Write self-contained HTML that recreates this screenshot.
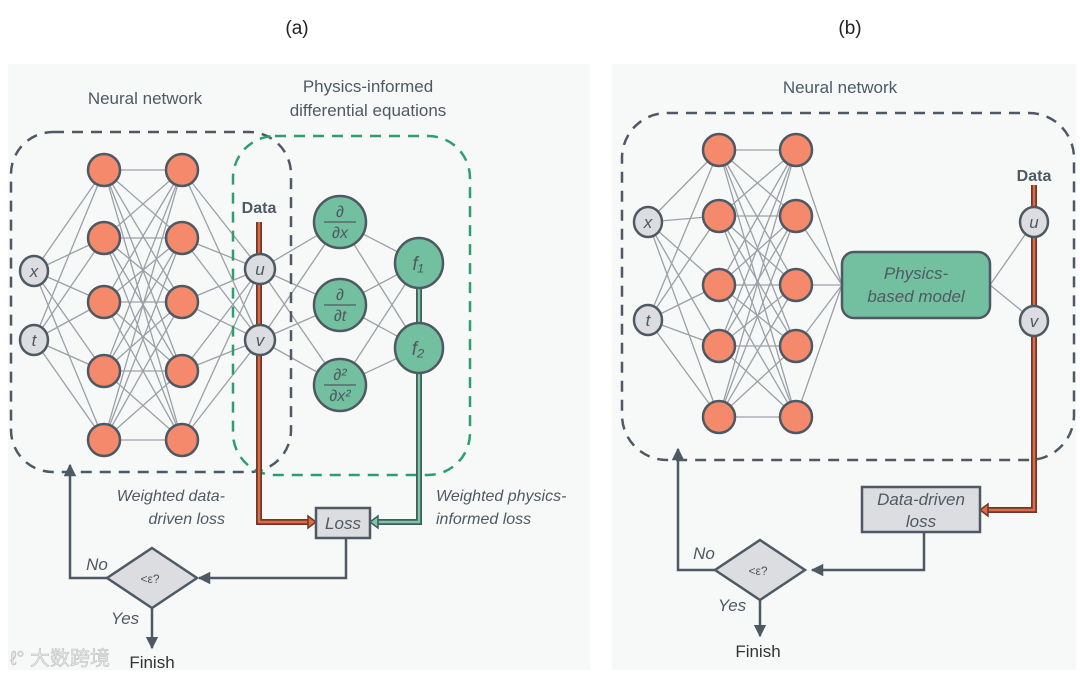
<!DOCTYPE html>
<html><head><meta charset="utf-8"><style>
html,body{margin:0;padding:0;background:#fff;}
svg{display:block;font-family:"Liberation Sans",sans-serif;}
</style></head><body>
<svg id="s" width="1080" height="675" viewBox="0 0 1080 675" xmlns="http://www.w3.org/2000/svg">
<defs>
<marker id="ar" viewBox="0 0 10 10" refX="9" refY="5" markerWidth="5" markerHeight="5" orient="auto"><path d="M0,0 L10,5 L0,10 z" fill="#4f5963"/></marker>
</defs>
<rect x="8" y="64" width="582" height="606" fill="#f7f9f9"/>
<rect x="612" y="64" width="464" height="606" fill="#f7f9f9"/>
<text x="297" y="34" font-size="19" text-anchor="middle" fill="#222">(a)</text>
<text x="850" y="34" font-size="19" text-anchor="middle" fill="#222">(b)</text>
<g id="edges" stroke="#9ba0a6" stroke-width="1.3"></g>
<rect x="11" y="132" width="280" height="340" rx="42" fill="none" stroke="#4f5963" stroke-width="2.5" stroke-dasharray="11,8"/>
<rect x="233" y="136" width="237" height="339" rx="42" fill="none" stroke="#2e9e6e" stroke-width="2.5" stroke-dasharray="11,8"/>
<text x="145" y="104" font-size="17" text-anchor="middle" fill="#4f5963">Neural  network</text>
<text x="368" y="92" font-size="17" text-anchor="middle" fill="#4f5963">Physics-informed</text>
<text x="368" y="116" font-size="17" text-anchor="middle" fill="#4f5963">differential equations</text>
<path d="M259,222 V522 H308" fill="none" stroke="#6b3a2a" stroke-width="6"/>
<path d="M259,222 V522 H308" fill="none" stroke="#e06a45" stroke-width="2.5"/>
<path d="M308,516 L316,522 L308,528 z" fill="#e06a45" stroke="#6b3a2a" stroke-width="1.5"/>
<path d="M419,263 V522 H378" fill="none" stroke="#3f5e5a" stroke-width="6"/>
<path d="M419,263 V522 H378" fill="none" stroke="#7fc4aa" stroke-width="2.5"/>
<path d="M378,516 L370,522 L378,528 z" fill="#7fc4aa" stroke="#3f5e5a" stroke-width="1.5"/>
<text x="259" y="213" font-size="16" font-weight="bold" text-anchor="middle" fill="#4f5963">Data</text>
<rect x="316" y="508" width="54" height="30" fill="#dcdde0" stroke="#4f5963" stroke-width="2.5"/>
<text x="343" y="529" font-size="17" font-style="italic" text-anchor="middle" fill="#4f5963">Loss</text>
<text x="225" y="501" font-size="16" font-style="italic" text-anchor="end" fill="#4f5963">Weighted data-</text>
<text x="225" y="524" font-size="16" font-style="italic" text-anchor="end" fill="#4f5963">driven loss</text>
<text x="436" y="501" font-size="16" font-style="italic" fill="#4f5963">Weighted physics-</text>
<text x="436" y="524" font-size="16" font-style="italic" fill="#4f5963">informed loss</text>
<path d="M346,538 V578 H199" fill="none" stroke="#4f5963" stroke-width="2.5" marker-end="url(#ar)"/>
<path d="M107,578 H70 V465" fill="none" stroke="#4f5963" stroke-width="2.5" marker-end="url(#ar)"/>
<path d="M152,608 V648" fill="none" stroke="#4f5963" stroke-width="2.5" marker-end="url(#ar)"/>
<polygon points="152,548 197,578 152,608 107,578" fill="#dcdde0" stroke="#4f5963" stroke-width="2.5"/>
<text x="150" y="583" font-size="12" text-anchor="middle" fill="#555">&lt;ε?</text>
<text x="97" y="570" font-size="17" font-style="italic" text-anchor="middle" fill="#4f5963">No</text>
<text x="125" y="624" font-size="17" font-style="italic" text-anchor="middle" fill="#4f5963">Yes</text>
<text x="152" y="668" font-size="17" text-anchor="middle" fill="#333">Finish</text>
<text x="10" y="665" font-size="20" fill="#e8e8e8" stroke="#bbb" stroke-width="0.5" font-family="'Liberation Sans','Noto Sans CJK SC',sans-serif">ℓ° 大数跨境</text>
<rect x="622" y="113" width="452" height="347" rx="45" fill="none" stroke="#4f5963" stroke-width="2.5" stroke-dasharray="11,8"/>
<text x="840" y="93" font-size="17" text-anchor="middle" fill="#4f5963">Neural  network</text>
<rect x="842" y="252" width="148" height="66" rx="12" fill="#72c0a0" stroke="#4f5963" stroke-width="2.5"/>
<text x="916" y="279" font-size="17" font-style="italic" text-anchor="middle" fill="#4f5963">Physics-</text>
<text x="916" y="302" font-size="17" font-style="italic" text-anchor="middle" fill="#4f5963">based model</text>
<path d="M1034,185 V510 H988" fill="none" stroke="#6b3a2a" stroke-width="6"/>
<path d="M1034,185 V510 H988" fill="none" stroke="#e06a45" stroke-width="2.5"/>
<path d="M988,504 L980,510 L988,516 z" fill="#e06a45" stroke="#6b3a2a" stroke-width="1.5"/>
<text x="1034" y="181" font-size="16" font-weight="bold" text-anchor="middle" fill="#4f5963">Data</text>
<rect x="862" y="487" width="118" height="45" fill="#dcdde0" stroke="#4f5963" stroke-width="2.5"/>
<text x="921" y="505" font-size="17" font-style="italic" text-anchor="middle" fill="#4f5963">Data-driven</text>
<text x="921" y="527" font-size="17" font-style="italic" text-anchor="middle" fill="#4f5963">loss</text>
<path d="M924,532 V570 H812" fill="none" stroke="#4f5963" stroke-width="2.5" marker-end="url(#ar)"/>
<path d="M715,570 H678 V449" fill="none" stroke="#4f5963" stroke-width="2.5" marker-end="url(#ar)"/>
<path d="M760,600 V636" fill="none" stroke="#4f5963" stroke-width="2.5" marker-end="url(#ar)"/>
<polygon points="760,540 805,570 760,600 715,570" fill="#dcdde0" stroke="#4f5963" stroke-width="2.5"/>
<text x="758" y="575" font-size="12" text-anchor="middle" fill="#555">&lt;ε?</text>
<text x="704" y="559" font-size="17" font-style="italic" text-anchor="middle" fill="#4f5963">No</text>
<text x="732" y="611" font-size="17" font-style="italic" text-anchor="middle" fill="#4f5963">Yes</text>
<text x="758" y="657" font-size="17" text-anchor="middle" fill="#333">Finish</text>
<g id="nodes"></g>
</svg>
<script>
var NS="http://www.w3.org/2000/svg";
var E=document.getElementById("edges"),N=document.getElementById("nodes");
function ln(a,b){var l=document.createElementNS(NS,"line");l.setAttribute("x1",a[0]);l.setAttribute("y1",a[1]);l.setAttribute("x2",b[0]);l.setAttribute("y2",b[1]);E.appendChild(l);}
function full(A,B){A.forEach(function(a){B.forEach(function(b){ln(a,b);});});}
function circ(p,rx,ry,fill){var c=document.createElementNS(NS,"ellipse");c.setAttribute("cx",p[0]);c.setAttribute("cy",p[1]);c.setAttribute("rx",rx);c.setAttribute("ry",ry);c.setAttribute("fill",fill);c.setAttribute("stroke","#4f5963");c.setAttribute("stroke-width","2.5");N.appendChild(c);}
function txt(x,y,s,sz,it){var t=document.createElementNS(NS,"text");t.setAttribute("x",x);t.setAttribute("y",y);t.setAttribute("font-size",sz);t.setAttribute("text-anchor","middle");t.setAttribute("fill","#4f5963");if(it)t.setAttribute("font-style","italic");t.textContent=s;N.appendChild(t);return t;}
var inA=[[34,271],[34,340]],h1A=[],h2A=[],ys=[170,238,302,371,440];
ys.forEach(function(y){h1A.push([104,y]);h2A.push([182,y]);});
var outA=[[260,269],[260,340]],dA=[[340,222],[340,305],[340,385]],fA=[[419,263],[419,348]];
full(inA,h1A);full(h1A,h2A);full(h2A,outA);full(outA,dA);full(dA,fA);
var inB=[[648,222],[648,320]],h1B=[],h2B=[],ysB=[150,216,285,346,417];
ysB.forEach(function(y){h1B.push([719,y]);h2B.push([796,y]);});
full(inB,h1B);full(h1B,h2B);full(h2B,[[842,285]]);full([[990,285]],[[1034,222],[1034,321]]);
inA.concat(inB).forEach(function(p){circ(p,14,15,"#dcdde0");});
h1A.concat(h2A,h1B,h2B).forEach(function(p){circ(p,16,16,"#f4896b");});
outA.forEach(function(p){circ(p,15,15,"#dcdde0");});
[[1034,222],[1034,321]].forEach(function(p){circ(p,14,15,"#dcdde0");});
dA.forEach(function(p){circ(p,26,26,"#72c0a0");});
fA.forEach(function(p){circ(p,24,25,"#72c0a0");});
txt(34,277,"x",17,1);txt(34,346,"t",17,1);txt(648,228,"x",17,1);txt(648,326,"t",17,1);
txt(260,275,"u",17,1);txt(260,346,"v",17,1);txt(1034,228,"u",17,1);txt(1034,327,"v",17,1);
txt(418,270,"f₁",19,1);txt(418,355,"f₂",19,1);
function frac(p,top,bot){txt(p[0],p[1]-5,top,16,1);var l=document.createElementNS(NS,"line");l.setAttribute("x1",p[0]-16);l.setAttribute("x2",p[0]+16);l.setAttribute("y1",p[1]);l.setAttribute("y2",p[1]);l.setAttribute("stroke","#4f5963");l.setAttribute("stroke-width","1.2");N.appendChild(l);txt(p[0],p[1]+16,bot,16,1);}
frac(dA[0],"∂","∂x");frac(dA[1],"∂","∂t");frac(dA[2],"∂²","∂x²");
</script>
</body></html>
